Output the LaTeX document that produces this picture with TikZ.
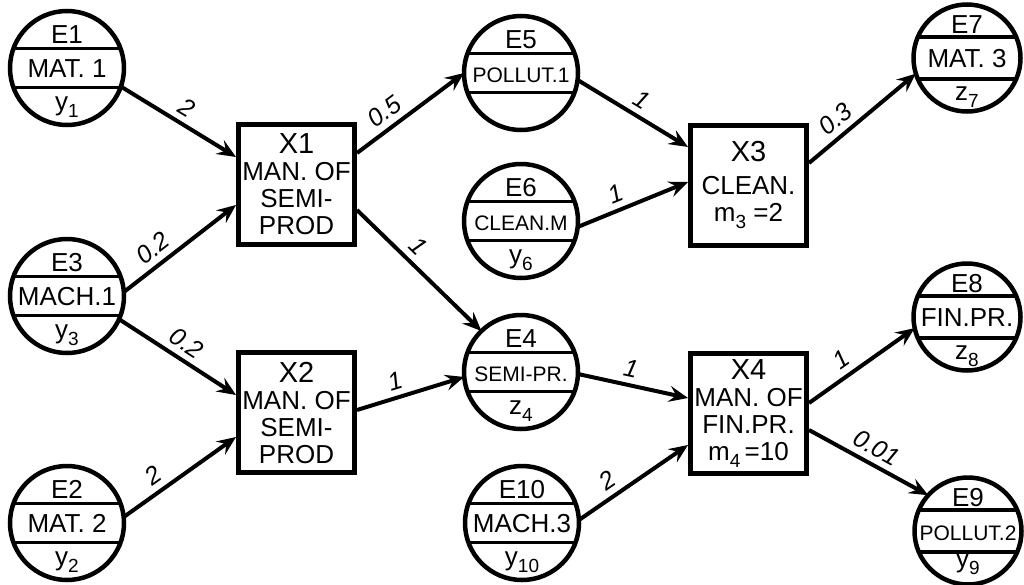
\documentclass[tikz,border=0pt]{standalone}
\usepackage{fontspec}
\setmainfont{Liberation Sans}
\usetikzlibrary{positioning,arrows.meta}
\newcommand\lowidx[1]{\raisebox{-0.5ex}{\fontsize{19}{19}\selectfont #1}}
\newcommand\xlab[1]{{\fontsize{29}{29}\selectfont #1}}
\tikzset{
  ev/.style={circle,draw,line width=4.5pt,minimum size=114pt,inner sep=0pt,outer sep=0pt},
  evr/.style={ev,minimum size=107pt},
  chord/.style={line width=3.5pt},
  evtxt/.style={inner sep=0pt,text height=18pt,text depth=0pt,font=\fontsize{26}{26}\selectfont},
  evsm/.style={evtxt,font=\fontsize{21}{21}\selectfont},
  proc/.style={draw,line width=5pt,minimum width=116pt,minimum height=120pt,inner sep=0pt,align=center,font=\fontsize{26}{27}\selectfont},
  flow/.style={-{Stealth[length=19pt,width=16pt,inset=7pt]},line width=4pt},
  wt/.style={sloped,above,inner sep=6pt,font=\fontsize{25}{25}\selectfont\itshape},
}
\begin{document}
\begin{tikzpicture}[x=1pt,y=-1pt,node distance=15pt]
\useasboundingbox (0,0) rectangle (1024,584);

\node[ev] (e1) at (67,68) {};
\draw[chord] (e1.160)--(e1.20) (e1.-160)--(e1.-20);
\node[evtxt] (e1m) at (e1) {MAT. 1};
\node[evtxt,above=of e1m] (e1t) {E1};
\node[evtxt,below=of e1m] (e1b) {y\lowidx{1}};

\node[ev] (e3) at (67,296) {};
\draw[chord] (e3.160)--(e3.20) (e3.-160)--(e3.-20);
\node[evtxt] (e3m) at (e3) {MACH.1};
\node[evtxt,above=of e3m] (e3t) {E3};
\node[evtxt,below=of e3m] (e3b) {y\lowidx{3}};

\node[ev] (e2) at (67,523) {};
\draw[chord] (e2.160)--(e2.20) (e2.-160)--(e2.-20);
\node[evtxt] (e2m) at (e2) {MAT. 2};
\node[evtxt,above=of e2m] (e2t) {E2};
\node[evtxt,below=of e2m] (e2b) {y\lowidx{2}};

\node[ev] (e5) at (521,73) {};
\draw[chord] (e5.160)--(e5.20) (e5.-160)--(e5.-20);
\node[evsm] (e5m) at (e5) {POLLUT.1};
\node[evtxt,above=of e5m] (e5t) {E5};

\node[ev] (e6) at (521,221) {};
\draw[chord] (e6.160)--(e6.20) (e6.-160)--(e6.-20);
\node[evsm] (e6m) at (e6) {CLEAN.M};
\node[evtxt,above=of e6m] (e6t) {E6};
\node[evtxt,below=of e6m] (e6b) {y\lowidx{6}};

\node[ev] (e4) at (521,372) {};
\draw[chord] (e4.160)--(e4.20) (e4.-160)--(e4.-20);
\node[evsm] (e4m) at (e4) {SEMI-PR.};
\node[evtxt,above=of e4m] (e4t) {E4};
\node[evtxt,below=of e4m] (e4b) {z\lowidx{4}};

\node[ev] (e10) at (522,523) {};
\draw[chord] (e10.160)--(e10.20) (e10.-160)--(e10.-20);
\node[evtxt] (e10m) at (e10) {MACH.3};
\node[evtxt,above=of e10m] (e10t) {E10};
\node[evtxt,below=of e10m] (e10b) {y\lowidx{10}};

\node[evr] (e7) at (967,58) {};
\draw[chord] (e7.157)--(e7.23) (e7.-157)--(e7.-23);
\node[evtxt] (e7m) at (e7) {MAT. 3};
\node[evtxt,above=of e7m] (e7t) {E7};
\node[evtxt,below=of e7m] (e7b) {z\lowidx{7}};

\node[evr] (e8) at (967,317) {};
\draw[chord] (e8.157)--(e8.23) (e8.-157)--(e8.-23);
\node[evtxt] (e8m) at (e8) {FIN.PR.};
\node[evtxt,above=of e8m] (e8t) {E8};
\node[evtxt,below=of e8m] (e8b) {z\lowidx{8}};

\node[evr] (e9) at (968,531) {};
\draw[chord] (e9.157)--(e9.23) (e9.-157)--(e9.-23);
\node[evsm] (e9m) at (e9) {POLLUT.2};
\node[evtxt,above=of e9m] (e9t) {E9};
\node[evtxt,below=9pt of e9m] (e9b) {y\lowidx{9}};

\node[proc] (x1) at (296.5,184.5) {\xlab{X1}\\MAN. OF\\SEMI-\\PROD};
\node[proc] (x2) at (296.5,412.5) {\xlab{X2}\\MAN. OF\\SEMI-\\PROD};
\node[proc] (x3) at (748.5,185) {\xlab{X3}\\[6pt]CLEAN.\\m\lowidx{3} =2};
\node[proc] (x4) at (748.5,413.5) {\xlab{X4}\\MAN. OF\\FIN.PR.\\m\lowidx{4}\,=10};

\draw[flow] (e1.-19) -- node[wt,pos=0.5] {2} ([yshift=27.5pt]x1.west);
\draw[flow] (e3.4) -- node[wt,pos=0.35] {0.2} ([yshift=-20.5pt]x1.west);
\draw[flow] (e3.-24) -- node[wt,pos=0.5] {0.2} ([yshift=17.5pt]x2.west);
\draw[flow] (e2.6) -- node[wt,pos=0.35] {2} ([yshift=-24.5pt]x2.west);
\draw[flow] ([yshift=31.5pt]x1.east) -- node[wt,pos=0.35] {0.5} (e5.180);
\draw[flow] ([yshift=-25.5pt]x1.east) -- node[wt,pos=0.4] {1} (e4.134);
\draw[flow] ([yshift=2.5pt]x2.east) -- node[wt,pos=0.4] {1} (e4.185);
\draw[flow] (e5.-7) -- node[wt,pos=0.5] {1} ([yshift=38pt]x3.west);
\draw[flow] (e6.-6) -- node[wt,pos=0.4] {1} ([yshift=3pt]x3.west);
\draw[flow] ([yshift=22pt]x3.east) -- node[wt,pos=0.35] {0.3} (e7.197);
\draw[flow] (e4.-2) -- node[wt,pos=0.45] {1} ([yshift=15.5pt]x4.west);
\draw[flow] (e10.3) -- node[wt,pos=0.35] {2} ([yshift=-31.5pt]x4.west);
\draw[flow] ([yshift=10.5pt]x4.east) -- node[wt,pos=0.4] {1} (e8.192);
\draw[flow] ([yshift=-16.5pt]x4.east) -- node[wt,pos=0.5] {0.01} (e9.138);
\end{tikzpicture}
\end{document}
